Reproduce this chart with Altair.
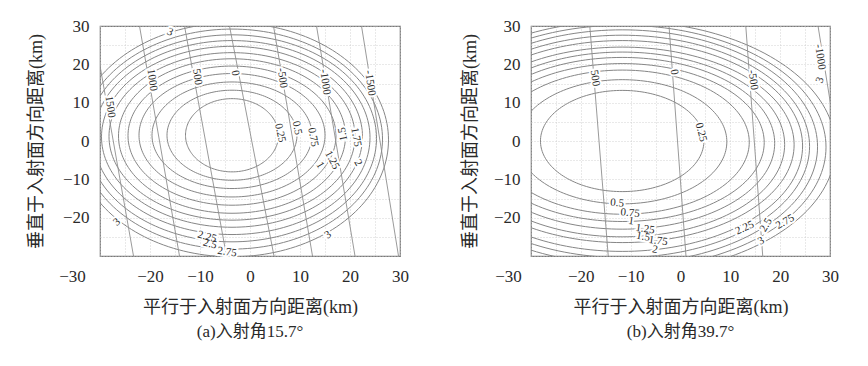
import altair as alt

# ---------------- data ----------------
levels = [0.25, 0.5, 0.75, 1, 1.25, 1.5, 1.75, 2, 2.25, 2.5, 2.75, 3]

# panel (a): contour semi-axes (km) and centres
a_cx = -3.6
a_cy = [1.5, 1.5, 1.5, 1.5, 1.4, 1.3, 1.2, 1.1, 0.9, 0.7, 0.5, 0.3]
a_rx = [9.3, 13.0, 16.0, 18.6, 20.8, 22.7, 24.6, 26.1, 27.6, 28.9, 30.1, 31.3]
a_ry = [9.55, 11.75, 13.9, 16.1, 18.15, 20.15, 21.85, 23.6, 25.3, 27.0, 28.7, 30.5]
# panel (b)
b_cx = -11.7
b_cy = [0.0, -0.2, -0.3, -0.4, -0.6, -0.9, -1.0, -1.3, -1.4, -1.5, -1.6, -1.7]
b_rx = [16.4, 21.0, 25.5, 28.5, 30.6, 32.6, 34.5, 36.2, 37.6, 39.2, 40.9, 42.8]
b_ry = [13.2, 16.2, 18.8, 20.6, 22.4, 24.1, 25.5, 27.5, 29.0, 30.5, 31.8, 33.0]

# near-straight lines: x at y = 30 (top) and y = -30 (bottom)
a_line_text = ["1500", "1000", "500", "0", "-500", "-1000", "-1500"]
a_line_top = [-31.4, -22.1, -13.1, -4.1, 4.7, 13.3, 22.3]
a_line_bot = [-23.3, -14.1, -4.7, 4.8, 12.5, 21.0, 29.7]
a_line_lx = [-28.0, -19.6, -10.6, -3.0, 6.4, 15.0, 24.0]
a_line_ly = [8.9, 15.9, 16.7, 17.7, 16.4, 15.4, 15.1]

b_line_text = ["500", "0", "-500", "-1000"]
b_line_top = [-18.2, -2.3, 13.1, 27.6]
b_line_bot = [-14.5, 1.1, 16.5, 35.0]
b_line_lx = [-17.2, -1.3, 14.5, 28.0]
b_line_ly = [16.4, 18.0, 15.9, 21.9]

# contour labels
a_clab_text = ["0.25", "0.5", "0.75", "1", "1.25", "1.5", "1.75", "2",
               "2.25", "2.5", "2.75", "3", "3", "3"]
a_clab_x = [6.0, 9.4, 12.6, 14.0, 16.4, 18.6, 21.2, 21.6, -8.6, -8.0, -4.6, -16.0, -26.6, 15.6]
a_clab_y = [2.1, 3.4, 1.0, -6.3, -5.0, 1.8, 1.0, -5.7, -25.0, -26.9, -29.0, 28.4, -21.2, -24.5]
a_clab_ang = [78, 78, 80, 60, 62, 260, 80, 60, 15, 15, 8, 25, 320, 325]

b_clab_text = ["0.25", "0.5", "0.75", "1", "1.25", "1.5", "1.75", "2",
               "2.25", "2.5", "2.75", "3", "3"]
b_clab_x = [4.1, -12.7, -10.1, -9.9, -7.1, -7.5, -4.5, -5.1, 12.9, 17.2, 21.0, 16.2, 28.0]
b_clab_y = [2.3, -16.2, -18.8, -20.9, -23.0, -25.0, -26.1, -28.4, -22.7, -21.9, -21.1, -26.1, 15.9]
b_clab_ang = [75, 5, 5, 8, 8, 10, 8, 10, 335, 300, 330, 330, 290]

x_title = "平行于入射面方向距离(km)"
y_title = "垂直于入射面方向距离(km)"
captions = ["(a)入射角15.7°", "(b)入射角39.7°"]

# ---------------- styling ----------------
NUM_FONT = "Liberation Serif, Noto Sans CJK SC"
LINE_GRAY = "#868686"
TEXT = "#2a2a2a"
ticks5 = list(range(-30, 31, 5))


def panel(cxc, cyl, rx, ry, ltext, ltop, lbot, llx, lly,
          ctext, cx, cy, cang, caption, minus_off, title_x, w):
    xs = alt.Scale(domain=[-30, 30], nice=False, zero=False)
    ys = alt.Scale(domain=[-30, 30], nice=False, zero=False)
    xa = alt.Axis(values=ticks5, title=x_title, grid=True, labelFlush=False,
                  labelExpr="datum.value % 10 == 0 ? datum.label : ''",
                  labelOffset={"condition": {"test": "datum.value == -30", "value": minus_off}, "value": 0})
    ya = alt.Axis(values=ticks5, title=y_title, grid=True,
                  titleX=title_x, titleY=115, titleBaseline="middle",
                  labelExpr="datum.value % 10 == 0 && datum.value > -30 ? datum.label : ''")

    steps = list(range(0, 361, 2))
    cont = alt.Data(values=[
        {"level": l, "rx": a, "ry": b, "cx": cxc, "cy": c, "t": steps}
        for l, a, b, c in zip(levels, rx, ry, cyl)])
    contours = alt.Chart(cont).transform_flatten(["t"]).transform_calculate(
        x="datum.cx + datum.rx*cos(datum.t*PI/180)",
        y="datum.cy + datum.ry*sin(datum.t*PI/180)",
    ).mark_line(clip=True, color=LINE_GRAY, strokeWidth=1.0).encode(
        x=alt.X("x:Q", scale=xs, axis=xa),
        y=alt.Y("y:Q", scale=ys, axis=ya),
        detail="level:N",
        order="t:Q",
    )

    lines = alt.Chart(alt.Data(values=[
        {"lab": t, "xt": a, "xb": b, "yt": 30, "yb": -30}
        for t, a, b in zip(ltext, ltop, lbot)])).mark_rule(
        clip=True, color="#8f8f8f", strokeWidth=0.9).encode(
        x=alt.X("xt:Q", scale=xs, axis=xa), x2="xb:Q",
        y=alt.Y("yt:Q", scale=ys, axis=ya), y2="yb:Q")

    lab_vals = [{"txt": t, "x": a, "y": b, "ang": 82} for t, a, b in zip(ltext, llx, lly)]
    lab_vals += [{"txt": t, "x": a, "y": b, "ang": g} for t, a, b, g in zip(ctext, cx, cy, cang)]
    labs = alt.Data(values=lab_vals)
    enc = dict(x=alt.X("x:Q", scale=xs, axis=xa), y=alt.Y("y:Q", scale=ys, axis=ya),
               text="txt:N", angle=alt.Angle("ang:Q", scale=None))
    halo = alt.Chart(labs).mark_text(font=NUM_FONT, fontSize=11, color="white",
                                     stroke="white", strokeWidth=4).encode(**enc)
    text = alt.Chart(labs).mark_text(font=NUM_FONT, fontSize=11, color=TEXT).encode(**enc)

    return alt.layer(contours, lines, halo, text).properties(
        width=w, height=230,
        title=alt.TitleParams(caption, orient="bottom", fontSize=17, font=NUM_FONT,
                              fontWeight="normal", color=TEXT, offset=8))


pa = panel(a_cx, a_cy, a_rx, a_ry, a_line_text, a_line_top, a_line_bot, a_line_lx, a_line_ly,
           a_clab_text, a_clab_x, a_clab_y, a_clab_ang, captions[0], -28, -64, 300)
pb = panel(b_cx, b_cy, b_rx, b_ry, b_line_text, b_line_top, b_line_bot, b_line_lx, b_line_ly,
           b_clab_text, b_clab_x, b_clab_y, b_clab_ang, captions[1], -23, -61, 299)

chart = alt.hconcat(pa, pb, spacing=50).properties(
    padding={"left": 18, "top": 8, "right": 0, "bottom": 0}
).configure_view(stroke="#7a7a7a", strokeWidth=1.2).configure_axis(
    labelFont=NUM_FONT, labelFontSize=17, labelColor=TEXT,
    titleFont=NUM_FONT, titleFontSize=18, titleFontWeight="normal", titleColor=TEXT,
    ticks=False, tickSize=0, domain=False,
    gridColor="#c8c8c8", gridDash=[1, 2], gridWidth=0.8,
).configure_axisX(labelPadding=12, titlePadding=14).configure_axisY(labelPadding=11)

chart.save("out.html", embed_options={"renderer": "svg", "actions": False})
